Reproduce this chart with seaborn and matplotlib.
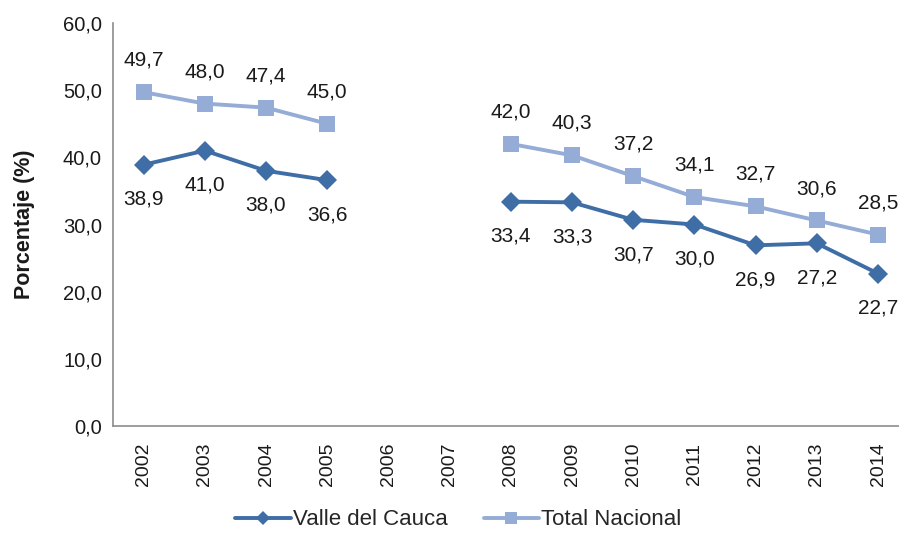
import numpy as np
import pandas as pd
import seaborn as sns
import matplotlib.pyplot as plt
from matplotlib.ticker import FuncFormatter, FixedLocator
from matplotlib.lines import Line2D

years = ["2002", "2003", "2004", "2005", "2006", "2007", "2008",
         "2009", "2010", "2011", "2012", "2013", "2014"]
valle = [38.9, 41.0, 38.0, 36.6, np.nan, np.nan, 33.4, 33.3, 30.7, 30.0, 26.9, 27.2, 22.7]
total = [49.7, 48.0, 47.4, 45.0, np.nan, np.nan, 42.0, 40.3, 37.2, 34.1, 32.7, 30.6, 28.5]

C_VALLE = "#3F6EA7"
C_TOTAL = "#94ACD6"
GRAY = "#8C8C8C"
TXT = "#1a1a1a"


def fmt(v):
    return f"{v:.1f}".replace(".", ",")


def build_df():
    rows = []
    for name, vals in [("Valle del Cauca", valle), ("Total Nacional", total)]:
        seg = 0
        for i, v in enumerate(vals):
            if np.isnan(v):
                seg += 1
                continue
            rows.append({"serie": name, "pos": i, "valor": v, "seg": f"{name}-{seg}"})
    return pd.DataFrame(rows)


def main():
    sns.set_style("white")
    plt.rcParams["font.family"] = ["Liberation Sans", "DejaVu Sans"]
    df = build_df()

    fig = plt.figure(figsize=(8.99, 5.45), dpi=100)
    ax = fig.add_axes([0.1257, 0.2183, 0.8743, 0.7395])

    styles = {"Valle del Cauca": (C_VALLE, "D", 10.5), "Total Nacional": (C_TOTAL, "s", 11.5)}
    for name, (color, marker, ms) in styles.items():
        sub = df[df["serie"] == name]
        sns.lineplot(data=sub, x="pos", y="valor", units="seg", estimator=None,
                     color=color, marker=marker, markersize=ms, markeredgewidth=0,
                     linewidth=2.8, ax=ax, legend=False)

    # data labels: Total above, Valle below
    for i, v in enumerate(total):
        if not np.isnan(v):
            ax.annotate(fmt(v), (i, v), xytext=(0, 23), textcoords="offset points",
                        ha="center", va="center", fontsize=15, color=TXT)
    for i, v in enumerate(valle):
        if not np.isnan(v):
            ax.annotate(fmt(v), (i, v), xytext=(0, -25), textcoords="offset points",
                        ha="center", va="center", fontsize=15, color=TXT)

    ax.set_ylim(0, 60)
    ax.set_xlim(-0.5, -0.5 + 786 / 61.2)
    ax.set_yticks(range(0, 61, 10))
    ax.yaxis.set_major_formatter(FuncFormatter(lambda v, p: fmt(v)))
    ax.xaxis.set_major_locator(FixedLocator(np.arange(-0.5, 13, 1)))
    ax.xaxis.set_major_formatter(FuncFormatter(lambda v, p: ""))
    ax.xaxis.set_minor_locator(FixedLocator(np.arange(0, 13)))
    ax.set_xticklabels(years, minor=True, rotation=90)
    ax.tick_params(axis="x", which="minor", length=0, labelsize=14, pad=12)
    ax.tick_params(axis="x", which="major", length=6, color=GRAY, direction="out")
    ax.tick_params(axis="y", length=6, color=GRAY, direction="out", labelsize=14.5, pad=2)
    ax.tick_params(axis="both", which="both", labelcolor=TXT)
    ax.set_xlabel("")
    ax.set_ylabel("Porcentaje (%)", fontsize=15.5, fontweight="bold", labelpad=20, color=TXT)
    for s in ["top", "right"]:
        ax.spines[s].set_visible(False)
    for s in ["left", "bottom"]:
        ax.spines[s].set_color(GRAY)
        ax.spines[s].set_linewidth(1.2)
    ax.grid(False)

    handles = [
        Line2D([], [], color=C_VALLE, marker="D", markersize=7, linewidth=2.8, markeredgewidth=0),
        Line2D([], [], color=C_TOTAL, marker="s", markersize=8, linewidth=2.8, markeredgewidth=0),
    ]
    fig.legend(handles, ["Valle del Cauca", "Total Nacional"], loc="lower center",
               bbox_to_anchor=(0.51, -0.01), ncol=2, frameon=False, fontsize=16,
               handlelength=2.5, handletextpad=0.1, columnspacing=1.6)

    fig.savefig("out.png", dpi=100)


if __name__ == "__main__":
    main()
